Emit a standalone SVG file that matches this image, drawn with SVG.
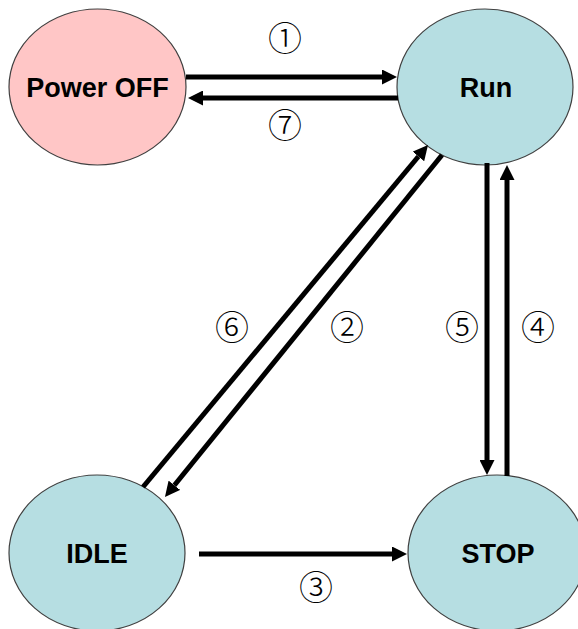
<svg xmlns="http://www.w3.org/2000/svg" width="578" height="629" viewBox="0 0 578 629">
  <style>
    .node { stroke: #404040; stroke-width: 1.2; }
    .off { fill: #FFC6C6; }
    .on { fill: #B6DEE2; }
    .name { font-family: "Liberation Sans", Arial, sans-serif; font-weight: bold; font-size: 27px; text-anchor: middle; fill: #000; }
    .num { font-family: "Noto Sans CJK JP", "DejaVu Sans", sans-serif; font-size: 34px; font-weight: 300; text-anchor: middle; fill: #000; }
    .edge { stroke: #000; stroke-width: 5; fill: none; marker-end: url(#arrow); }
  </style>
  <defs>
    <marker id="arrow" markerUnits="userSpaceOnUse" markerWidth="15" markerHeight="15" refX="0" refY="7.5" orient="auto" viewBox="0 0 15 15">
      <path d="M0,0 L15,7.5 L0,15 z" fill="#000"/>
    </marker>
  </defs>
  <rect width="578" height="629" fill="#fff"/>
  <g id="power-off">
    <ellipse class="node off" cx="97.5" cy="87" rx="88.5" ry="78"/>
    <text class="name" x="97.5" y="97">Power OFF</text>
  </g>
  <g id="run">
    <ellipse class="node on" cx="485" cy="87" rx="88" ry="78"/>
    <text class="name" x="486" y="97">Run</text>
  </g>
  <g id="idle">
    <ellipse class="node on" cx="97" cy="553" rx="88" ry="78"/>
    <text class="name" x="97" y="563">IDLE</text>
  </g>
  <g id="stop">
    <ellipse class="node on" cx="497" cy="553" rx="89" ry="78"/>
    <text class="name" x="498" y="563">STOP</text>
  </g>
  <g id="connectors">
    <path class="edge" d="M186,77 L382,77"/>
    <path class="edge" d="M398,98 L203,98"/>
    <path class="edge" d="M143,487 L418.4,156.5"/>
    <path class="edge" d="M442,155 L174.4,485.3"/>
    <path class="edge" d="M487,163 L487,460"/>
    <path class="edge" d="M507,476 L507,180"/>
    <path class="edge" d="M199,554 L392,554"/>
  </g>
  <g id="labels">
    <text class="num" x="285" y="51">①</text>
    <text class="num" x="285" y="138">⑦</text>
    <text class="num" x="232" y="340">⑥</text>
    <text class="num" x="347" y="340">②</text>
    <text class="num" x="462" y="340">⑤</text>
    <text class="num" x="538" y="340">④</text>
    <text class="num" x="316" y="600">③</text>
  </g>
</svg>
